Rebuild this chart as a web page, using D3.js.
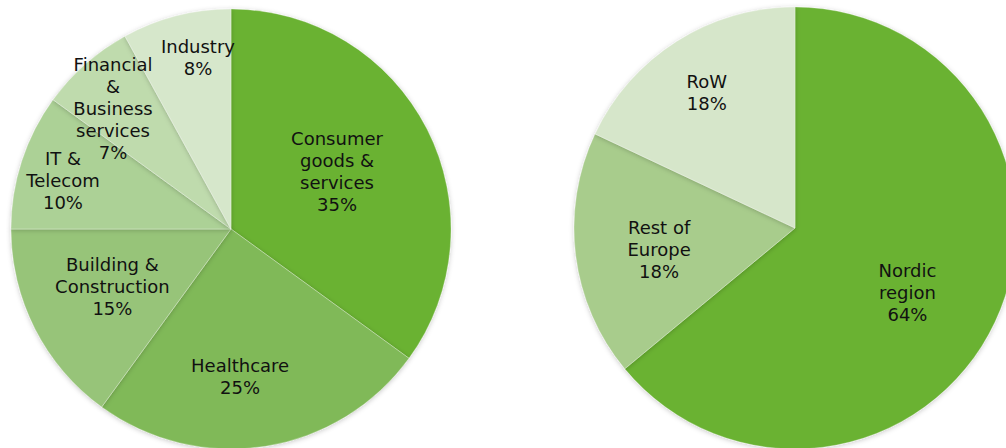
<!DOCTYPE html>
<html>
<head>
<meta charset="utf-8">
<script src="https://cdn.jsdelivr.net/npm/d3@7"></script>
<style>
  html, body { margin: 0; padding: 0; background: #ffffff; overflow: hidden; }
  svg { display: block; }
  text { font-family: "DejaVu Sans", Verdana, sans-serif; font-size: 18px; fill: #111111; }
</style>
</head>
<body>
<svg id="chart" width="1006" height="448"></svg>
<script>
// ---- Data ----
const sectorLabels = [["Consumer", "goods &", "services"], ["Healthcare"], ["Building &", "Construction"], ["IT &", "Telecom"], ["Financial", "&", "Business", "services"], ["Industry"]];
const sectorValues = [35, 25, 15, 10, 7, 8];

const regionLabels = [["Nordic", "region"], ["Rest of", "Europe"], ["RoW"]];
const regionValues = [64, 18, 18];

// ---- Styling / layout (not data) ----
const sectorColors = ["#6ab233", "#80b958", "#97c479", "#acd196", "#bfdbad", "#d6e7cb"];
const regionColors = ["#6ab233", "#a8cc8c", "#d6e6ca"];
// label distance from centre as a fraction of radius, plus a small nudge (px)
const sectorLabelRadius = [0.548, 0.671, 0.60, 0.795, 0.767, 0.794];
const sectorLabelNudge = [[-1.4, -2.6], [-14, 1.5], [-1, -2], [-1.7, 5.5], [-6.4, 5.9], [10.4, -2.3]];
const regionLabelRadius = [0.587, 0.623, 0.73];
const regionLabelNudge = [[-4.9, 9.3], [0.7, 4.7], [-1.8, 1.1]];

const svg = d3.select("#chart");
const defs = svg.append("defs");
const f = defs.append("filter").attr("id", "shadow")
  .attr("x", "-20%").attr("y", "-20%").attr("width", "140%").attr("height", "140%");
f.append("feDropShadow").attr("dx", 0).attr("dy", 1).attr("stdDeviation", 2.5)
  .attr("flood-color", "#000").attr("flood-opacity", 0.22);

const lineH = 22;

function drawPie(cx, cy, R, labels, values, colors, labelR, nudge) {
  const g = svg.append("g").attr("transform", `translate(${cx},${cy})`);
  const pie = d3.pie().sort(null).value(d => d);
  const arcs = pie(values);
  const arc = d3.arc().innerRadius(0).outerRadius(R);

  g.selectAll("path.slice").data(arcs).enter().append("path")
    .attr("class", "slice")
    .attr("d", arc)
    .attr("fill", (d, i) => colors[i])
    .attr("stroke", "rgba(255,255,255,0.35)")
    .attr("stroke-width", 0.8)
    .attr("filter", "url(#shadow)");

  arcs.forEach((d, i) => {
    const la = d3.arc().innerRadius(R * labelR[i]).outerRadius(R * labelR[i]);
    const c = la.centroid(d);
    const x = c[0] + nudge[i][0], y = c[1] + nudge[i][1];
    const lines = labels[i].concat([d3.format(".0f")(d.data) + "%"]);
    const n = lines.length;
    const t = g.append("text").attr("text-anchor", "middle")
      .attr("x", x).attr("y", y - (n - 1) / 2 * lineH + 6.5);
    lines.forEach((s, k) => {
      t.append("tspan").attr("x", x).attr("dy", k === 0 ? 0 : lineH).text(s);
    });
  });
}

drawPie(231, 229, 220, sectorLabels, sectorValues, sectorColors, sectorLabelRadius, sectorLabelNudge);
drawPie(795, 228, 221, regionLabels, regionValues, regionColors, regionLabelRadius, regionLabelNudge);
</script>
</body>
</html>
